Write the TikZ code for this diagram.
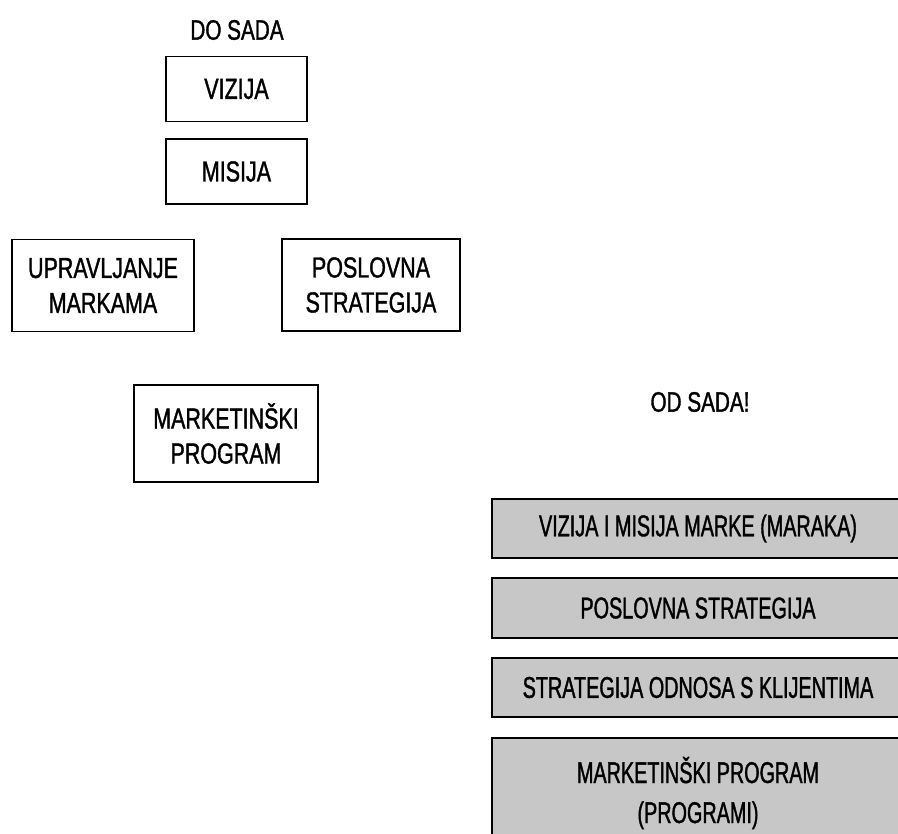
\documentclass[tikz,border=0pt]{standalone}
\usepackage{fontspec}
\setmainfont{Liberation Sans}[FakeStretch=0.74,FakeBold=1.2]
\newfontfamily\narrowfont{Liberation Sans}[FakeStretch=0.66,FakeBold=1.2]
\begin{document}
\begin{tikzpicture}[x=1pt,y=-1pt,
  lbox/.style={draw=black, line width=1.4pt, inner sep=0pt, align=center,
    font=\fontsize{29}{35}\selectfont},
  gbox/.style={draw=black, line width=1.8pt, fill=black!22, inner sep=0pt, align=center,
    font=\narrowfont\fontsize{30}{40}\selectfont},
  ttl/.style={inner sep=0pt, font=\fontsize{28}{34}\selectfont}]
\useasboundingbox (0,0) rectangle (898,834);
\fill[white] (0,0) rectangle (898,834);
% left: DO SADA
\node[ttl] (dosada) at (237,30) {DO SADA};
\node[lbox, minimum width=141, minimum height=65] (vizija) at (236.5,89) {VIZIJA};
\node[lbox, minimum width=141, minimum height=65] (misija) at (236.5,171.5) {MISIJA};
\node[lbox, minimum width=182, minimum height=92] (uprav) at (103,285.5) {UPRAVLJANJE\\MARKAMA};
\node[lbox, minimum width=178, minimum height=92] (poslovna) at (371,285) {POSLOVNA\\STRATEGIJA};
\node[lbox, minimum width=184, minimum height=97] (mprog) at (226,433.5) {MARKETIN\v{S}KI\\PROGRAM};
% right: OD SADA!
\node[ttl] (odsada) at (700,402) {OD SADA!};
\begin{scope}
\clip (0,0) rectangle (898,834);
\node[gbox, minimum width=412, minimum height=59] (g1) at (698,528.5) {VIZIJA I MISIJA MARKE (MARAKA)};
\node[gbox, minimum width=412, minimum height=60] (g2) at (698,608) {POSLOVNA STRATEGIJA};
\node[gbox, minimum width=412, minimum height=59] (g3) at (698,687.5) {STRATEGIJA ODNOSA S KLIJENTIMA};
\node[gbox, minimum width=412, minimum height=110] (g4) at (698,793) {MARKETIN\v{S}KI PROGRAM\\(PROGRAMI)};
\end{scope}
\end{tikzpicture}
\end{document}
